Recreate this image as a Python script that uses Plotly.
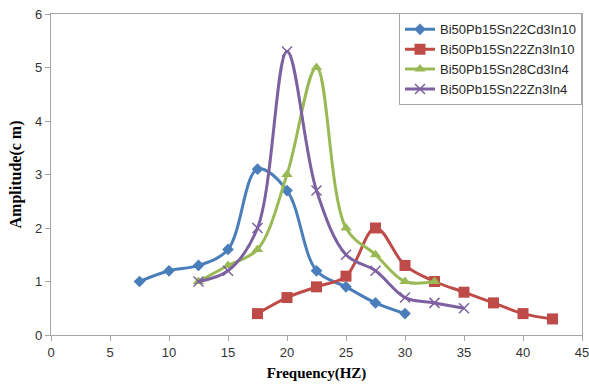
import plotly.graph_objects as go

names = ["Bi50Pb15Sn22Cd3In10", "Bi50Pb15Sn22Zn3In10", "Bi50Pb15Sn28Cd3In4", "Bi50Pb15Sn22Zn3In4"]

x_cd3in10 = [7.5, 10, 12.5, 15, 17.5, 20, 22.5, 25, 27.5, 30]
y_cd3in10 = [1.0, 1.2, 1.3, 1.6, 3.1, 2.7, 1.2, 0.9, 0.6, 0.4]

x_zn3in10 = [17.5, 20, 22.5, 25, 27.5, 30, 32.5, 35, 37.5, 40, 42.5]
y_zn3in10 = [0.4, 0.7, 0.9, 1.1, 2.0, 1.3, 1.0, 0.8, 0.6, 0.4, 0.3]

x_cd3in4 = [12.5, 15, 17.5, 20, 22.5, 25, 27.5, 30, 32.5]
y_cd3in4 = [1.0, 1.3, 1.6, 3.0, 5.0, 2.0, 1.5, 1.0, 1.0]

x_zn3in4 = [12.5, 15, 17.5, 20, 22.5, 25, 27.5, 30, 32.5, 35]
y_zn3in4 = [1.0, 1.2, 2.0, 5.3, 2.7, 1.5, 1.2, 0.7, 0.6, 0.5]

colors = ["#4a7ebb", "#be4b48", "#98b954", "#7d60a0"]
symbols = ["diamond", "square", "triangle-up", "x-thin"]
sizes = [9, 11, 10, 10]

series = [(x_cd3in10, y_cd3in10), (x_zn3in10, y_zn3in10), (x_cd3in4, y_cd3in4), (x_zn3in4, y_zn3in4)]

fig = go.Figure()
for i, (xs, ys) in enumerate(series):
    marker = dict(symbol=symbols[i], size=sizes[i], color=colors[i])
    if symbols[i] == "x-thin":
        marker["line"] = dict(color=colors[i], width=1.5)
    fig.add_trace(go.Scatter(
        x=xs, y=ys, name=names[i], mode="lines+markers",
        line=dict(color=colors[i], width=3, shape="spline", smoothing=1.0),
        marker=marker,
    ))

axis_common = dict(
    showgrid=False, zeroline=False, showline=True, linecolor="#a6a6a6", linewidth=1.3,
    mirror=True, ticks="outside", ticklen=5, tickcolor="#a6a6a6",
    ticklabeloverflow="allow", automargin=False,
    tickfont=dict(family="Liberation Sans", size=13, color="#333333"),
)

fig.update_layout(
    width=589, height=391,
    margin=dict(l=51, r=7, t=14, b=56, autoexpand=False),
    paper_bgcolor="white", plot_bgcolor="white",
    xaxis=dict(range=[0, 45], dtick=5, tick0=0,
               title=dict(text="<b>Frequency(HZ)</b>", standoff=8,
                          font=dict(family="Liberation Serif", size=15, color="black")),
               **axis_common),
    yaxis=dict(range=[0, 6], dtick=1, tick0=0, **axis_common),
    legend=dict(x=1, y=1.002, xanchor="right", yanchor="top",
                bordercolor="#a6a6a6", borderwidth=1, bgcolor="white",
                font=dict(family="Liberation Sans", size=13, color="#262626"),
                tracegroupgap=0),
    showlegend=True,
    annotations=[dict(
        text="<b>Amplitude(c m)</b>", xref="paper", yref="paper",
        x=0, y=0.5, xanchor="center", yanchor="middle", xshift=-36,
        textangle=-90, showarrow=False,
        font=dict(family="Liberation Serif", size=16, color="black"),
    )],
)

fig.write_html("out.html", config={"displayModeBar": False},
               post_script="document.body.style.margin='0px';document.body.style.overflow='hidden';")
